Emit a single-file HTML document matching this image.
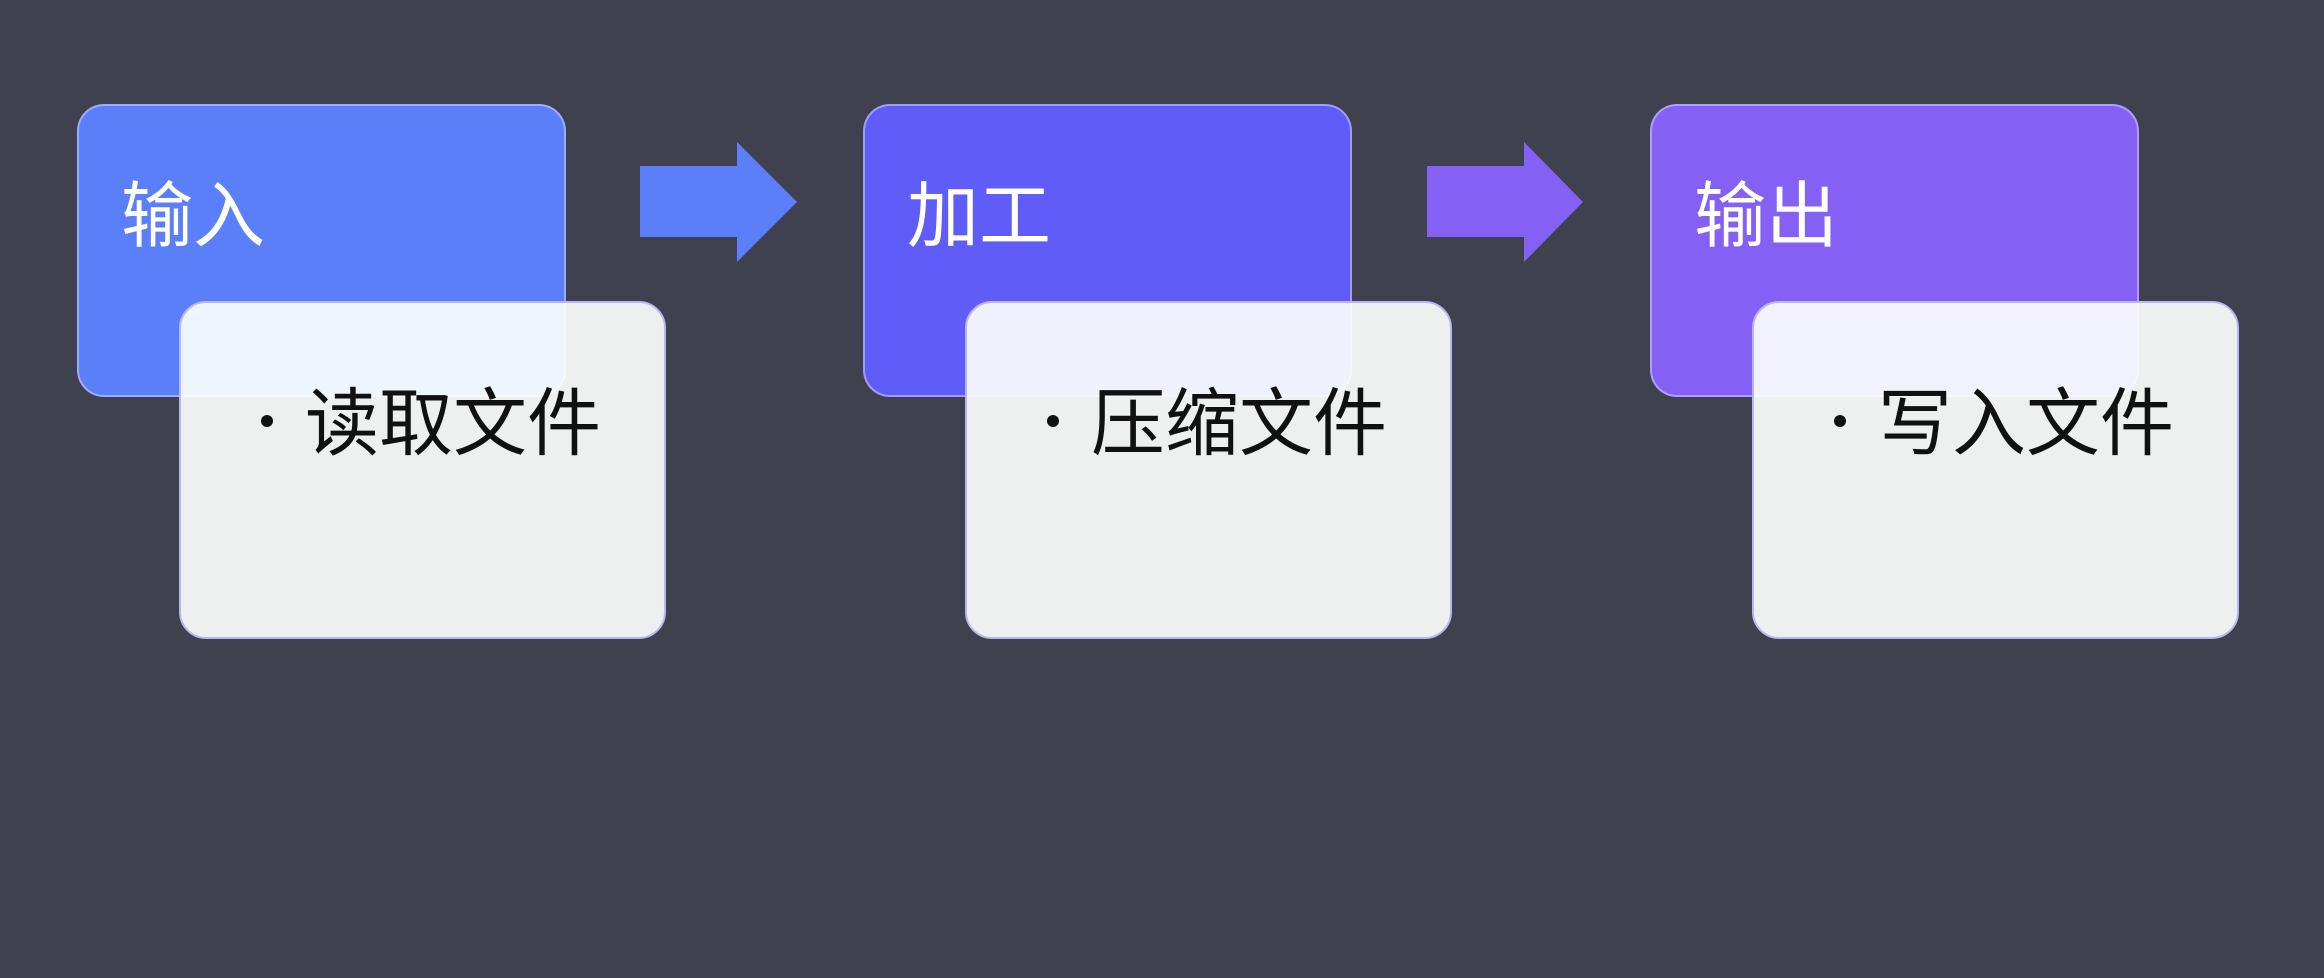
<!DOCTYPE html>
<html><head><meta charset="utf-8"><style>
html,body{margin:0;padding:0;}
body{width:2324px;height:978px;background:#40414f;position:relative;overflow:hidden;font-family:"Noto Sans CJK SC","Liberation Sans",sans-serif;}
.h{position:absolute;top:104px;width:489px;height:293px;border-radius:27px;box-sizing:border-box;border:2px solid rgba(200,200,255,0.6);}
.h span{position:absolute;left:42px;top:104px;transform:translateY(-50%);color:#fff;font-size:72px;line-height:90px;}
.c{position:absolute;top:301px;width:487px;height:338px;border-radius:27px;background:rgba(252,255,252,0.92);box-sizing:border-box;border:2px solid #b9b6f5;}
.c span{position:absolute;left:124px;top:115px;transform:translateY(-50%);color:#111;font-size:74px;line-height:90px;white-space:nowrap;}
.c b{position:absolute;left:80px;top:112px;width:12px;height:12px;border-radius:50%;background:#111;}
</style></head><body>
<div class="h" style="left:77px;background:#5b7ff8"><span>输入</span></div>
<div class="c" style="left:179px"><b></b><span>读取文件</span></div>
<div class="h" style="left:863px;background:#5f5cf7"><span>加工</span></div>
<div class="c" style="left:965px"><b></b><span>压缩文件</span></div>
<div class="h" style="left:1650px;background:#8560f5"><span>输出</span></div>
<div class="c" style="left:1752px"><b></b><span>写入文件</span></div>
<svg style="position:absolute;left:0;top:0" width="2324" height="978">
<polygon points="640,166 737,166 737,142 797,202 737,262 737,237 640,237" fill="#5b7ff8"/>
<polygon points="1427,166 1524,166 1524,142 1583,202 1524,262 1524,237 1427,237" fill="#8560f5"/>
</svg>
</body></html>
